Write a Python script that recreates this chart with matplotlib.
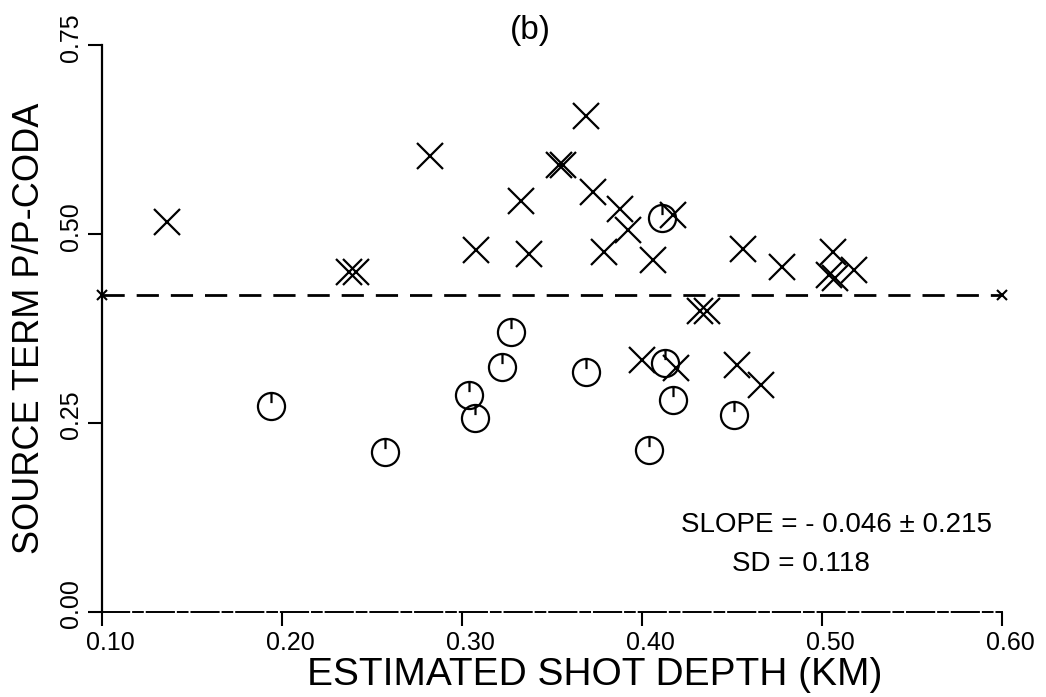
import numpy as np
import matplotlib
matplotlib.use('Agg')
import matplotlib.pyplot as plt
import matplotlib.transforms as mtransforms
from matplotlib.path import Path

plt.rcParams['font.family'] = ['Liberation Sans', 'DejaVu Sans']

# crosses (doubled marks drawn as two close points)
cross_depth = [0.136, 0.237, 0.241, 0.282, 0.308, 0.333, 0.337, 0.354, 0.356,
               0.369, 0.373, 0.388, 0.392, 0.379, 0.406, 0.417, 0.456, 0.478,
               0.506, 0.504, 0.507, 0.518, 0.432, 0.436, 0.400, 0.419, 0.453, 0.466]
cross_term = [0.516, 0.450, 0.450, 0.603, 0.479, 0.544, 0.474, 0.591, 0.591,
              0.656, 0.556, 0.534, 0.505, 0.476, 0.466, 0.525, 0.481, 0.456,
              0.476, 0.446, 0.442, 0.452, 0.399, 0.399, 0.333, 0.323, 0.327, 0.300]

# circled symbols
circ_depth = [0.194, 0.257, 0.304, 0.307, 0.322, 0.327, 0.369, 0.404, 0.411, 0.413, 0.417, 0.451]
circ_term = [0.272, 0.212, 0.287, 0.257, 0.324, 0.370, 0.317, 0.214, 0.521, 0.329, 0.280, 0.261]

mean_term = 0.42
line_depth = [0.10, 0.60]

xticks = [0.10, 0.20, 0.30, 0.40, 0.50, 0.60]
yticks = [0.00, 0.25, 0.50, 0.75]

# circle with a short stroke from the top towards the centre
circ_marker = Path.make_compound_path(Path.unit_circle(),
                                      Path([[0, 1], [0, 0.25]], [Path.MOVETO, Path.LINETO]))

fig = plt.figure(figsize=(10.46, 6.97), dpi=100)
ax = fig.add_axes([0.0975, 0.122, 0.8605, 0.813])

ax.plot(line_depth, [mean_term, mean_term], 'k--', lw=2, dashes=(8, 4.3))
ax.plot(line_depth, [mean_term, mean_term], 'kx', ms=7, mew=1.5, clip_on=False)

ax.plot(cross_depth, cross_term, 'x', color='k', ms=19, mew=1.6, linestyle='none')
ax.plot(circ_depth, circ_term, linestyle='none', marker=circ_marker, ms=19.5,
        mfc='none', mec='k', mew=1.6)

ax.text(0.508, 0.115, 'SLOPE = - 0.046 \u00b1 0.215', fontsize=20, ha='center', va='center')
ax.text(0.488, 0.064, 'SD = 0.118', fontsize=20, ha='center', va='center')
ax.text(0.338, 0.77, '(b)', fontsize=24, ha='center', va='center', clip_on=False)

ax.set_xlim(0.10, 0.60)
ax.set_ylim(0.00, 0.75)
ax.set_xticks(xticks)
ax.set_xticklabels([f'{t:.2f}' for t in xticks], fontsize=18)
ax.set_yticks(yticks)
ax.set_yticklabels([f'{t:.2f}' for t in yticks], fontsize=18, rotation=90, va='center')
ax.tick_params(direction='out', length=10, width=1.5, pad=4)

# labels sit a little right of / above their ticks in the original
dx = mtransforms.ScaledTranslation(8 / 100, 0, fig.dpi_scale_trans)
dy = mtransforms.ScaledTranslation(0, 8 / 100, fig.dpi_scale_trans)
for lab in ax.get_xticklabels():
    lab.set_transform(lab.get_transform() + dx)
for lab in ax.get_yticklabels():
    lab.set_transform(lab.get_transform() + dy)

fig.text(595 / 1046, 4 / 697, 'ESTIMATED SHOT DEPTH (KM)', fontsize=28,
         ha='center', va='bottom')
ax.set_ylabel('SOURCE TERM P/P-CODA', fontsize=26, labelpad=8)

for s in ['top', 'right']:
    ax.spines[s].set_visible(False)
ax.spines['left'].set_linewidth(1.6)
# the scanned bottom axis is a broken long-dash line
ax.spines['bottom'].set_linewidth(1.4)
ax.spines['bottom'].set_linestyle((0, (14, 2, 5, 2)))

fig.savefig('out.png', dpi=100)
